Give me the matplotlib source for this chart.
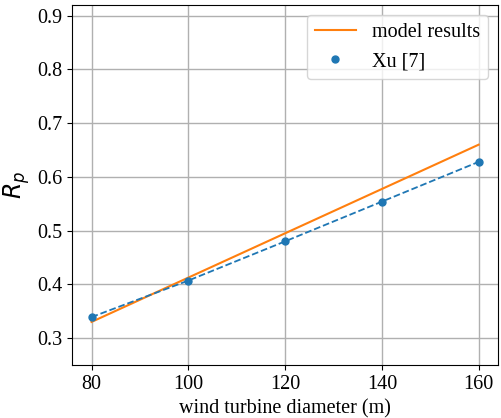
import matplotlib
matplotlib.use("Agg")
import matplotlib.pyplot as plt

diameters = [80, 100, 120, 140, 160]
xu_values = [0.339, 0.407, 0.480, 0.554, 0.628]
model_x = [80, 160]
model_values = [0.330, 0.660]

plt.rcParams['font.family'] = ['Liberation Serif', 'DejaVu Serif']
plt.rcParams['mathtext.fontset'] = 'dejavusans'

fig = plt.figure(figsize=(5.01, 4.18), dpi=100)
ax = fig.add_axes([0.144, 0.127, 0.850, 0.861])

ax.plot(model_x, model_values, color='tab:orange', lw=1.5, label='model results')
ax.plot(diameters, xu_values, 'o', color='tab:blue', ms=5, label='Xu [7]')
ax.plot(diameters, xu_values, '--', color='tab:blue', lw=1.3)

ax.set_xlim(76, 164)
ax.set_ylim(0.25, 0.92)
ax.set_xticks([80, 100, 120, 140, 160])
ax.set_yticks([0.3, 0.4, 0.5, 0.6, 0.7, 0.8, 0.9])
ax.grid(True, color='#b0b0b0', lw=1)
ax.tick_params(labelsize=14.5)
ax.set_xlabel('wind turbine diameter (m)', fontsize=14.5)
ax.set_ylabel('$R_p$', fontsize=17)
ax.legend(loc='upper right', fontsize=14.5)

fig.savefig('out.png', dpi=100)
